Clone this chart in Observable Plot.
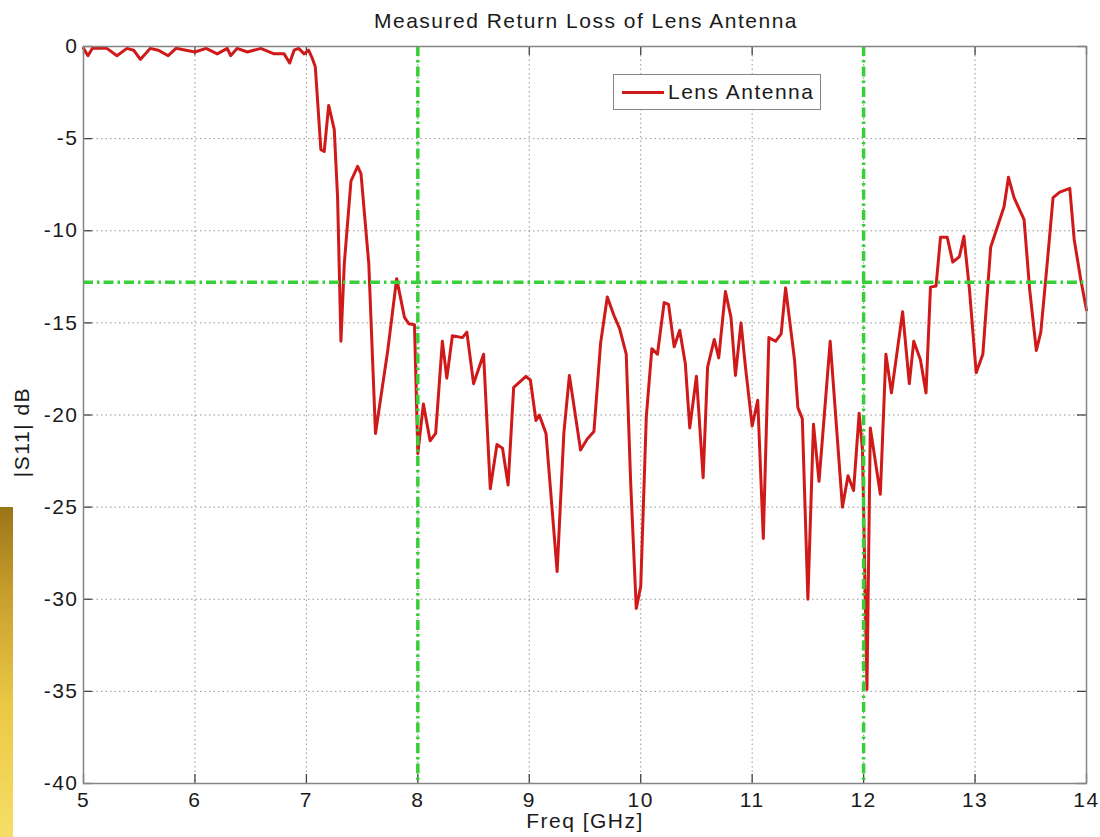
<!DOCTYPE html>
<html>
<head>
<meta charset="utf-8">
<script src="https://cdn.jsdelivr.net/npm/d3@7"></script>
<script src="https://cdn.jsdelivr.net/npm/@observablehq/plot@0.6"></script>
<style>
  html, body { margin: 0; padding: 0; background: #fff; }
  #fig { position: relative; width: 1100px; height: 837px; overflow: hidden;
         font-family: "Liberation Sans", Arial, sans-serif; color: #1a1a1a; }
  #fig svg { position: absolute; left: 0; top: 0; }
  #title { position: absolute; left: 0; top: 8px; width: 1172px; text-align: center;
           font-size: 21px; line-height: 26px; letter-spacing: 1.5px; }
  #ylabel { position: absolute; left: -78px; top: 419px; width: 200px; height: 26px;
            text-align: center; font-size: 21px; line-height: 26px; letter-spacing: 1.5px;
            transform: rotate(-90deg); transform-origin: 50% 50%; }
  #legend { position: absolute; left: 613px; top: 74px; width: 206px; height: 34px;
            border: 1.5px solid #858585; background: #fff; display: flex; align-items: center;
            font-size: 21px; letter-spacing: 1.5px; }
  #legend .swatch { display: inline-block; width: 42px; height: 3px; background: #d01a1a;
                    margin-left: 8px; margin-right: 4px; }
  #edge { position: absolute; left: 0; top: 507px; width: 13px; height: 330px;
          background: linear-gradient(to bottom, #9b7418 0%, #c79c2c 25%, #ebc845 60%, #f6de66 100%); }
</style>
</head>
<body>
<div id="fig">
  <div id="title">Measured Return Loss of Lens Antenna</div>
  <div id="ylabel">|S11| dB</div>
  <div id="legend"><span class="swatch"></span><span>Lens Antenna</span></div>
  <div id="edge"></div>
</div>
<script>
// Measured |S11| of the lens antenna, frequency in GHz and return loss in dB
const freq = [
  5.00, 5.04, 5.08, 5.14, 5.21, 5.30, 5.39, 5.45, 5.51, 5.60, 5.67, 5.76, 5.83, 5.92,
  6.00, 6.10, 6.20, 6.29, 6.32, 6.38, 6.47, 6.59, 6.71, 6.80, 6.85, 6.89, 6.93, 6.98,
  7.02, 7.05, 7.08, 7.13, 7.16, 7.20, 7.25, 7.28, 7.31, 7.34, 7.40, 7.46, 7.49, 7.56,
  7.62, 7.73, 7.81, 7.88, 7.92, 7.97, 8.00, 8.05, 8.11, 8.16, 8.22, 8.26, 8.31, 8.40,
  8.44, 8.50, 8.59, 8.65, 8.71, 8.76, 8.81, 8.86, 8.97, 9.01, 9.06, 9.09, 9.15, 9.25,
  9.31, 9.36, 9.46, 9.52, 9.58, 9.64, 9.70, 9.76, 9.81, 9.87, 9.91, 9.96, 10.00, 10.05,
  10.10, 10.15, 10.21, 10.25, 10.30, 10.35, 10.40, 10.44, 10.50, 10.56, 10.60, 10.66,
  10.70, 10.76, 10.81, 10.85, 10.90, 10.94, 11.00, 11.05, 11.10, 11.15, 11.21, 11.26,
  11.30, 11.38, 11.41, 11.45, 11.50, 11.55, 11.60, 11.70, 11.81, 11.86, 11.91, 11.96,
  11.99, 12.03, 12.06, 12.15, 12.20, 12.25, 12.35, 12.41, 12.45, 12.51, 12.56, 12.60,
  12.65, 12.69, 12.75, 12.80, 12.86, 12.90, 12.95, 13.01, 13.07, 13.14, 13.26, 13.30,
  13.35, 13.44, 13.49, 13.55, 13.59, 13.65, 13.70, 13.76, 13.85, 13.89, 13.95, 14.00
];
const s11 = [
  -0.1, -0.5, -0.1, -0.1, -0.1, -0.5, -0.1, -0.2, -0.7, -0.1, -0.2, -0.5, -0.1, -0.2,
  -0.3, -0.1, -0.4, -0.1, -0.5, -0.1, -0.3, -0.1, -0.4, -0.4, -0.9, -0.2, -0.1, -0.4,
  -0.2, -0.6, -1.1, -5.6, -5.7, -3.2, -4.5, -8.2, -16.0, -11.8, -7.3, -6.5, -6.9, -11.8,
  -21.0, -16.5, -12.6, -14.7, -15.05, -15.1, -22.1, -19.4, -21.4, -21.0, -16.0, -18.0, -15.7, -15.8,
  -15.5, -18.3, -16.7, -24.0, -21.6, -21.8, -23.8, -18.5, -17.9, -18.1, -20.3, -20.0, -21.0, -28.5,
  -21.0, -17.85, -21.9, -21.3, -20.9, -16.1, -13.6, -14.6, -15.3, -16.7, -23.7, -30.5, -29.3, -20.1,
  -16.4, -16.7, -13.9, -14.0, -16.3, -15.4, -17.2, -20.7, -17.9, -23.4, -17.4, -15.9,
  -16.9, -13.3, -14.7, -17.85, -15.0, -17.4, -20.6, -19.2, -26.7, -15.8, -16.0, -15.6,
  -13.1, -17.0, -19.6, -20.2, -30.0, -20.5, -23.6, -16.0, -25.0, -23.3, -24.1, -19.9,
  -21.9, -34.9, -20.7, -24.3, -16.7, -18.8, -14.4, -18.3, -16.0, -17.0, -18.8, -13.06,
  -13.0, -10.35, -10.35, -11.7, -11.4, -10.3, -13.2, -17.7, -16.7, -10.9, -8.7, -7.1,
  -8.2, -9.4, -13.2, -16.5, -15.5, -11.6, -8.2, -7.9, -7.7, -10.5, -12.7, -14.3
];

// Axis ticks
const xTicks = [5, 6, 7, 8, 9, 10, 11, 12, 13, 14];
const yTicks = [0, -5, -10, -15, -20, -25, -30, -35, -40];

// Band edges (GHz) and the reference return-loss level (dB)
const bandEdges = [8, 12];
const referenceLevel = [-12.8];

const rows = freq.map((f, i) => ({freq: f, s11: s11[i]}));

// Frame geometry (pixels)
const W = 1100, H = 837, mL = 83, mR = 14, mT = 46, mB = 54;
const innerW = W - mL - mR, innerH = H - mT - mB;
const tickLen = 9;

const gridStyle = {stroke: "#8c8c8c", strokeOpacity: 0.9, strokeDasharray: "1.5,3"};
const markerStyle = {stroke: "#38d038", strokeWidth: 3.5, strokeDasharray: "10,4,2.5,4"};
const tickStyle = {stroke: "#444", strokeWidth: 1.3};

const chart = Plot.plot({
  width: W,
  height: H,
  marginLeft: mL,
  marginRight: mR,
  marginTop: mT,
  marginBottom: mB,
  style: {
    fontFamily: "'Liberation Sans', Arial, sans-serif",
    fontSize: "21px",
    letterSpacing: "1.5px",
    background: "transparent",
    color: "#1a1a1a"
  },
  x: {domain: [5, 14]},
  y: {domain: [-40, 0]},
  marks: [
    Plot.gridX(xTicks, gridStyle),
    Plot.gridY(yTicks, gridStyle),
    // inward tick marks on all four sides of the box
    Plot.tickX(xTicks, {x: d => d, insetTop: innerH - tickLen, ...tickStyle}),
    Plot.tickX(xTicks, {x: d => d, insetBottom: innerH - tickLen, ...tickStyle}),
    Plot.tickY(yTicks, {y: d => d, insetRight: innerW - tickLen, ...tickStyle}),
    Plot.tickY(yTicks, {y: d => d, insetLeft: innerW - tickLen, ...tickStyle}),
    Plot.line(rows, {x: "freq", y: "s11", stroke: "#d01a1a", strokeWidth: 3, strokeLinejoin: "round"}),
    Plot.ruleX(bandEdges, markerStyle),
    Plot.ruleY(referenceLevel, markerStyle),
    Plot.frame({stroke: "#858585", strokeWidth: 1.5}),
    Plot.axisX({ticks: xTicks, anchor: "bottom", tickSize: 0, tickPadding: 9,
                tickFormat: d => String(d), label: "Freq [GHz]", labelAnchor: "center",
                labelArrow: "none", labelOffset: 44}),
    Plot.axisY({ticks: yTicks, anchor: "left", tickSize: 0, tickPadding: 5,
                tickFormat: d => String(d), label: null})
  ]
});

const fig = document.getElementById("fig");
fig.insertBefore(chart, fig.firstChild);
</script>
</body>
</html>
